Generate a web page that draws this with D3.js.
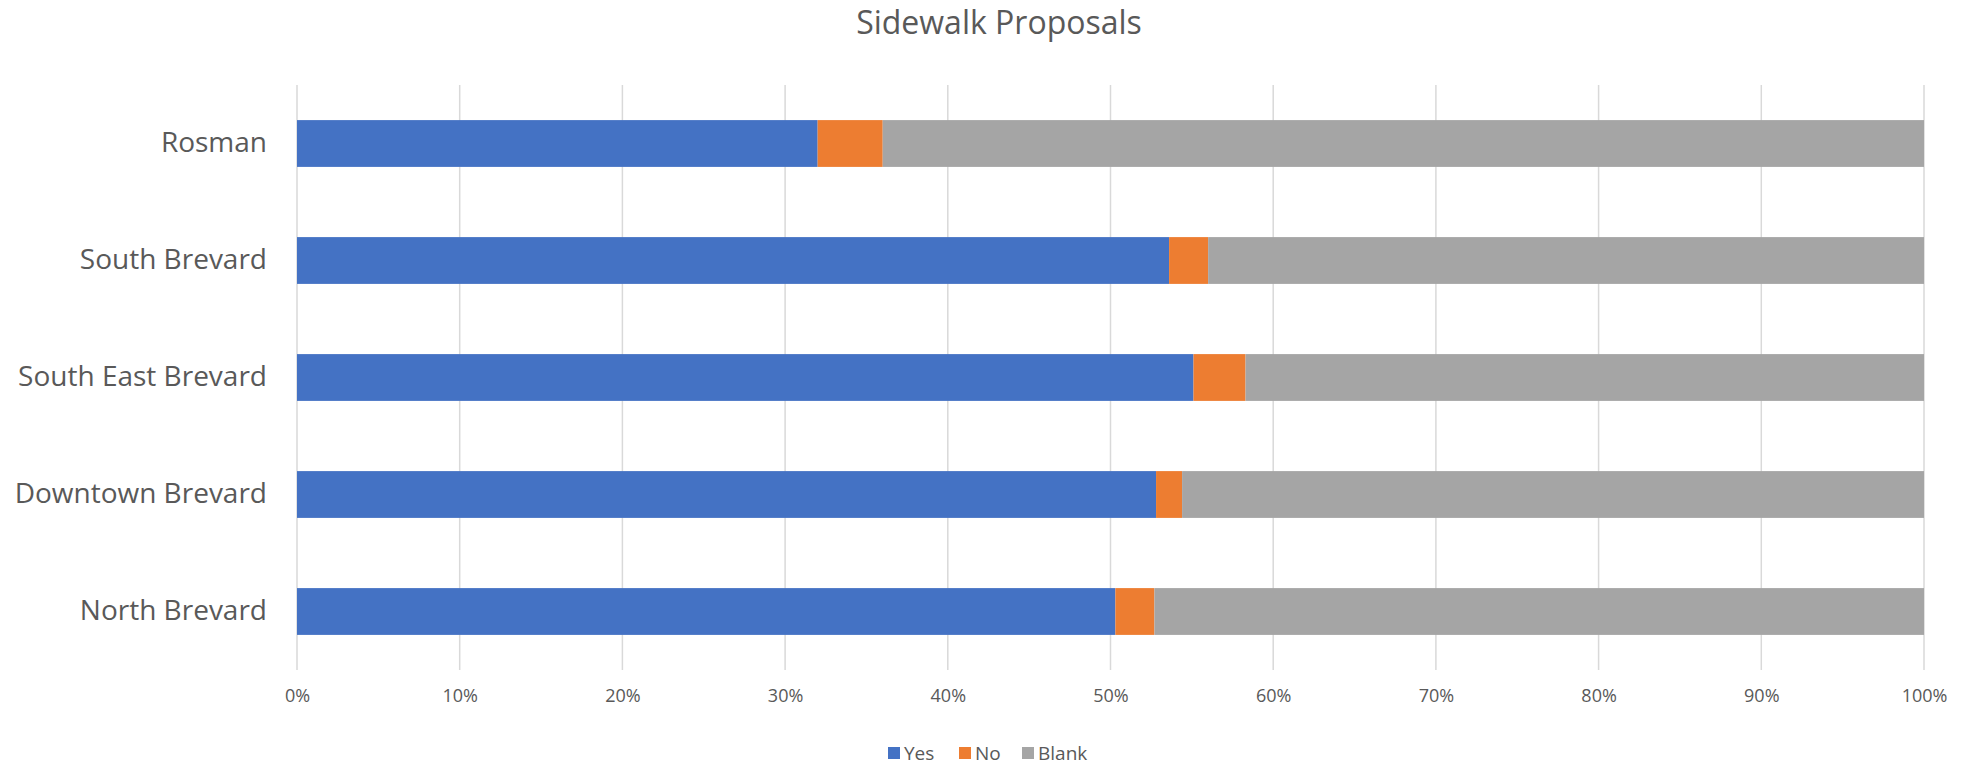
<!DOCTYPE html>
<html>
<head>
<meta charset="utf-8">
<script src="https://d3js.org/d3.v7.min.js"></script>
<style>
  body { margin: 0; background: #fff; }
  text { font-family: "Open Sans", "Noto Sans", sans-serif; fill: #595959; }
</style>
</head>
<body>
<svg width="1965" height="768"></svg>
<script>
// Data (percent of responses)
var regions = ['Rosman', 'South Brevard', 'South East Brevard', 'Downtown Brevard', 'North Brevard'];
var yesValues = [32.0, 53.6, 55.1, 52.8, 50.3];
var noValues = [4.0, 2.4, 3.2, 1.6, 2.4];
var blankValues = [64.0, 44.0, 41.7, 45.6, 47.3];
var seriesNames = ['Yes', 'No', 'Blank'];
var seriesColors = ['#4472C4', '#ED7D31', '#A5A5A5'];
var tickValues = [0, 10, 20, 30, 40, 50, 60, 70, 80, 90, 100];

var svg = d3.select('svg');
var width = +svg.attr('width');

// plot box
var plot = {l: 297, r: 1924, t: 85, b: 670};

var rows = regions.map(function(r, i) {
    var total = yesValues[i] + noValues[i] + blankValues[i];
    return {region: r, Yes: yesValues[i] / total, No: noValues[i] / total, Blank: blankValues[i] / total};
});

var xScale = d3.scaleLinear().domain([0, 1]).range([plot.l, plot.r]);
var yScale = d3.scaleBand().domain(regions).range([plot.t, plot.b])
    .paddingInner(0.6).paddingOuter(0.3);
var color = d3.scaleOrdinal().domain(seriesNames).range(seriesColors);

// Title
svg.append('text')
    .attr('x', 999)
    .attr('y', 34)
    .attr('text-anchor', 'middle')
    .style('font-size', '32px')
    .text('Sidewalk Proposals');

// Vertical grid lines
svg.append('g')
    .attr('class', 'x-grid')
    .selectAll('line')
    .data(tickValues)
    .enter().append('line')
    .attr('x1', d => xScale(d / 100))
    .attr('x2', d => xScale(d / 100))
    .attr('y1', plot.t)
    .attr('y2', plot.b)
    .attr('stroke', '#D9D9D9')
    .attr('stroke-width', 1.5);

// Stacked bars
var stacked = d3.stack().keys(seriesNames)(rows);

svg.append('g')
    .selectAll('g')
    .data(stacked)
    .enter().append('g')
    .attr('fill', d => color(d.key))
    .selectAll('rect')
    .data(d => d)
    .enter().append('rect')
    .attr('x', d => xScale(d[0]))
    .attr('width', d => xScale(d[1]) - xScale(d[0]))
    .attr('y', d => yScale(d.data.region))
    .attr('height', yScale.bandwidth());

// X axis labels
var xAxis = d3.axisBottom(xScale)
    .tickValues(tickValues.map(d => d / 100))
    .tickFormat(d3.format('.0%'))
    .tickSize(0)
    .tickPadding(0);

var xg = svg.append('g')
    .attr('transform', 'translate(0,' + (plot.b + 19) + ')')
    .call(xAxis);
xg.select('.domain').remove();
xg.selectAll('text')
    .style('font-size', '18px')
    .attr('fill', '#595959');

// Y axis (category labels)
var yAxis = d3.axisLeft(yScale).tickSize(0).tickPadding(30);
var yg = svg.append('g')
    .attr('transform', 'translate(' + plot.l + ',0)')
    .call(yAxis);
yg.select('.domain').remove();
yg.selectAll('text')
    .style('font-size', '28px')
    .attr('fill', '#595959');

// Legend
var legendX = [888, 959, 1022];
var legend = svg.append('g').attr('class', 'legend');
var item = legend.selectAll('g')
    .data(seriesNames)
    .enter().append('g')
    .attr('transform', (d, i) => 'translate(' + legendX[i] + ',753)');
item.append('rect')
    .attr('x', 0)
    .attr('y', -6)
    .attr('width', 12)
    .attr('height', 12)
    .attr('fill', d => color(d));
item.append('text')
    .attr('x', 16)
    .attr('y', 0)
    .attr('dy', '0.35em')
    .style('font-size', '19px')
    .text(d => d);
</script>
</body>
</html>
